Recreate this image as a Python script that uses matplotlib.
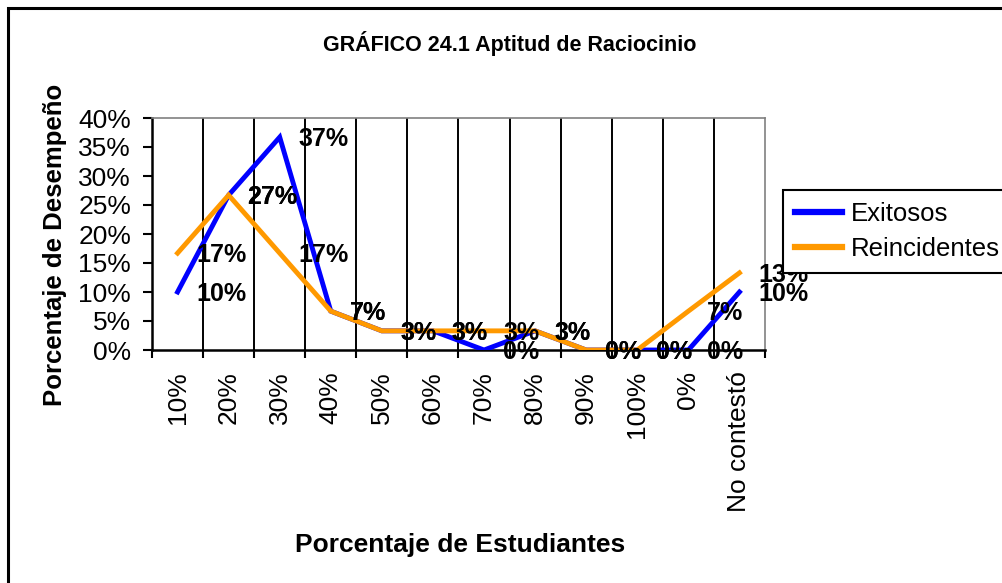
import matplotlib
matplotlib.use("Agg")
import matplotlib.pyplot as plt
from matplotlib.patches import Rectangle
import numpy as np

plt.rcParams['font.family'] = ['Liberation Sans', 'DejaVu Sans']

categories = ["10%", "20%", "30%", "40%", "50%", "60%", "70%", "80%", "90%", "100%", "0%", "No contestó"]
exitosos = [10.0, 26.7, 36.7, 6.7, 3.3, 3.3, 0.0, 3.3, 0.0, 0.0, 0.0, 10.0]
reincidentes = [16.7, 26.7, 16.7, 6.7, 3.3, 3.3, 3.3, 3.3, 0.0, 0.0, 6.7, 13.3]
yticks = [0, 5, 10, 15, 20, 25, 30, 35, 40]

W, H = 1003, 583
fig = plt.figure(figsize=(W / 100, H / 100), dpi=100)

# outer border
fig.patches.append(Rectangle((8 / W, -0.1), 1.2, 1 - 8 / H + 0.1, transform=fig.transFigure,
                             fill=False, edgecolor='black', linewidth=2.2))

ax = fig.add_axes([152 / W, (H - 350) / H, (765 - 152) / W, (350 - 118) / H])
x = np.arange(len(categories))

ax.plot(x, exitosos, color='#0000FF', linewidth=3.5, label='Exitosos', zorder=3, solid_joinstyle='miter')
ax.plot(x, reincidentes, color='#FF9900', linewidth=3.5, label='Reincidentes', zorder=4, solid_joinstyle='miter')

for series in (exitosos, reincidentes):
    for xi, v in zip(x, series):
        ax.annotate(f"{int(round(v))}%", (xi, v), xytext=(19, -2), textcoords='offset pixels',
                    ha='left', va='center', fontsize=18, fontweight='bold', zorder=5,
                    annotation_clip=False)

ax.set_xlim(-0.5, len(categories) - 0.5)
ax.set_ylim(0, 40)
ax.set_yticks(yticks)
ax.set_yticklabels([f"{t}%" for t in yticks], fontsize=19)

ax.set_xticks(x)
ax.set_xticklabels(categories, rotation=90, fontsize=19)
ax.tick_params(axis='x', which='major', length=0, pad=15)
bounds = np.arange(len(categories) + 1) - 0.5
ax.set_xticks(bounds, minor=True)
ax.tick_params(axis='x', which='minor', length=6, width=1.5, direction='out')
ax.tick_params(axis='y', length=6.5, width=1.5, direction='out', pad=8.5)

for b in bounds[1:-1]:
    ax.axvline(b, color='black', linewidth=1.4, zorder=1)

for s in ('left', 'bottom'):
    ax.spines[s].set_color('black')
    ax.spines[s].set_linewidth(1.8)
for s in ('top', 'right'):
    ax.spines[s].set_color('#808080')
    ax.spines[s].set_linewidth(1.2)

fig.text(510 / W, 1 - 43 / H, "GRÁFICO 24.1 Aptitud de Raciocinio", ha='center', va='center',
         fontsize=15.5, fontweight='bold')
fig.text(55 / W, 1 - 245 / H, "Porcentaje de Desempeño", ha='center', va='center', rotation=90,
         fontsize=18.5, fontweight='bold')
fig.text(460 / W, 1 - 545 / H, "Porcentaje de Estudiantes", ha='center', va='center',
         fontsize=19, fontweight='bold')

leg = fig.legend(loc='upper left', bbox_to_anchor=(783 / W, 1 - 190 / H), fontsize=18.5,
                 frameon=True, fancybox=False, edgecolor='black', framealpha=1,
                 handlelength=1.85, handletextpad=0.33, borderpad=0.45, labelspacing=0.45,
                 borderaxespad=0)
leg.set_zorder(10)
leg.get_frame().set_linewidth(1.5)
for h in leg.get_lines():
    h.set_linewidth(4.5)

fig.savefig("out.png", dpi=100)
